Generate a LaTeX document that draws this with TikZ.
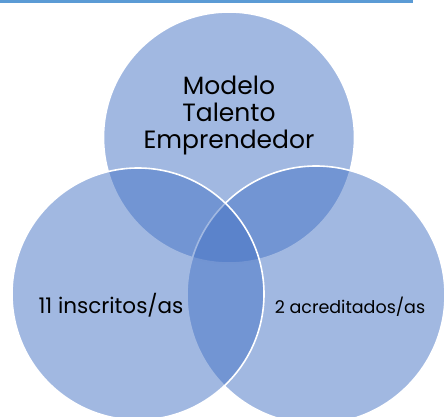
\documentclass[tikz,border=0pt]{standalone}
\usepackage{fontspec}
\setmainfont{Poppins}
\definecolor{vennblue}{HTML}{4472C4}
\definecolor{topbar}{HTML}{5B9BD5}
\begin{document}
\begin{tikzpicture}[
        x=1pt, y=-1pt,
        venn/.style={circle, fill=vennblue, fill opacity=0.5, draw=white, line width=1.6pt, inner sep=0pt},
        venntext/.style={text=black, inner sep=0pt}
      ]
      \useasboundingbox (0,0) rectangle (444,417);
      \draw[topbar, line width=3pt] (0,1.5) -- (413,1.5);
      \node[venn, minimum size=251pt] (modelo) at (229,137.5) {};
      \node[venn, minimum size=258pt] (acreditados) at (316,295) {};
      \node[venn, minimum size=252pt] (inscritos) at (138,294) {};
      \node[venntext, align=center, font=\fontsize{25}{27}\selectfont] (modelotext) at (229,115) {Modelo \\ Talento \\ Emprendedor};
      \node[venntext, anchor=base, font=\fontsize{21.5}{24}\selectfont] (inscritostext) at (111,313) {11 inscritos/as};
      \node[venntext, anchor=base, font=\fontsize{17.5}{20}\selectfont] (acreditadostext) at (350,313) {2 acreditados/as};
    \end{tikzpicture}
\end{document}
